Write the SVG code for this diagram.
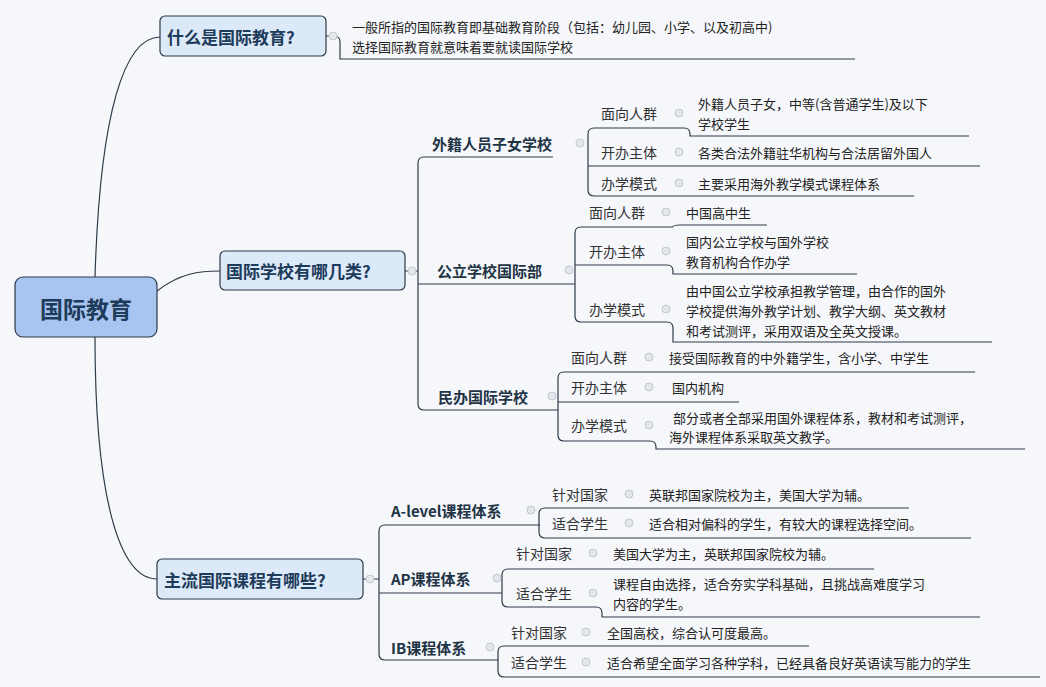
<svg xmlns="http://www.w3.org/2000/svg" width="1046" height="687" viewBox="0 0 1046 687">
<style>
text{font-family:"Noto Sans CJK SC","Liberation Sans",sans-serif;dominant-baseline:central}
.l1{font-size:17px;font-weight:bold;fill:#1d3b5a}
.l2{font-size:15px;font-weight:bold;fill:#1f3445}
.lb{font-size:14px;fill:#333}
.lf{font-size:13px;fill:#222}
.c{fill:none;stroke:#2e3b48;stroke-width:1.2}
.box{fill:#dce9f8;stroke:#2e3b48;stroke-width:1.2}
.k{fill:#e4e7ec;stroke:#c3c8cf;stroke-width:1}
</style>
<rect width="1046" height="687" fill="#f5f7fb"/>
<g id="connectors">
<path class="c" d="M95,277 C100,110 125,37 160,37"/>
<path class="c" d="M157,291 C180,273 200,271 220,271"/>
<path class="c" d="M95,337 C95,500 120,579 157,579"/>
<path class="c" d="M326,36 H334 Q340,36 340,42 V59 H855"/>
<path class="c" d="M405,271 H418 M553,157 H424 Q418,157 418,163 V404 Q418,410 424,410 H558 M418,284 H575"/>
<path class="c" d="M684,128 H594 Q588,128 588,134 V190 Q588,196 594,196 H914 M588,166 H980 M684,128 Q690,128 690,134 V136 H969"/>
<path class="c" d="M673,227 H581 Q575,227 575,233 V316 Q575,322 581,322 H667 Q673,322 673,328 V342 H992 M575,265 H667 Q673,265 673,271 V274 H857 M673,227 Q673,225 680,225 H767"/>
<path class="c" d="M656,372 H564 Q558,372 558,378 V435 Q558,441 564,441 H650 Q656,441 656,447 V449 H1025 M558,402 H739 M656,372 H975"/>
<path class="c" d="M363,579 H379 M540,525 H385 Q379,525 379,531 V654 Q379,660 385,660 H498 M379,593 H502"/>
<path class="c" d="M636,508 H545 Q539,508 539,514 V532 Q539,538 545,538 H971 M636,508 H909"/>
<path class="c" d="M602,569 H508 Q502,569 502,575 V601 Q502,607 508,607 H596 Q602,607 602,613 V617 H980 M602,569 H874"/>
<path class="c" d="M593,646 H504 Q498,646 498,652 V671 Q498,677 504,677 H1040 M593,646 H809"/>
</g>
<g id="root"><rect x="15" y="277" width="142" height="60" rx="8" fill="#a8c4f0" stroke="#2e3b48" stroke-width="1.2"/><text x="86" y="308" text-anchor="middle" style="font-size:23px;font-weight:bold;fill:#1d3b5a">国际教育</text></g>
<g id="n1"><rect class="box" x="160" y="16" width="166" height="40" rx="5"/><text class="l1" x="167" y="36">什么是国际教育?</text><circle class="k" cx="333" cy="36" r="4"/></g>
<g id="n1a"><text class="lf" x="352" y="26">一般所指的国际教育即基础教育阶段（包括：幼儿园、小学、以及初高中)</text><text class="lf" x="352" y="46">选择国际教育就意味着要就读国际学校</text></g>
<g id="n2"><rect class="box" x="220" y="251" width="185" height="39" rx="5"/><text class="l1" x="226" y="270">国际学校有哪几类?</text><circle class="k" cx="412" cy="271" r="4"/></g>
<g id="n3"><rect class="box" x="157" y="559" width="206" height="40" rx="5"/><text class="l1" x="164" y="579">主流国际课程有哪些?</text><circle class="k" cx="370" cy="579" r="4"/></g>
<g id="w"><text class="l2" x="432" y="143">外籍人员子女学校</text><circle class="k" cx="580" cy="143" r="4"/>
<text class="lb" x="601" y="113">面向人群</text><circle class="k" cx="679" cy="113" r="4"/><text class="lf" x="698" y="103">外籍人员子女，中等(含普通学生)及以下</text><text class="lf" x="698" y="123">学校学生</text>
<text class="lb" x="601" y="152">开办主体</text><circle class="k" cx="679" cy="152" r="4"/><text class="lf" x="698" y="152">各类合法外籍驻华机构与合法居留外国人</text>
<text class="lb" x="601" y="183">办学模式</text><circle class="k" cx="679" cy="183" r="4"/><text class="lf" x="698" y="183">主要采用海外教学模式课程体系</text></g>
<g id="g"><text class="l2" x="437" y="270">公立学校国际部</text><circle class="k" cx="569" cy="270" r="4"/>
<text class="lb" x="589" y="212">面向人群</text><circle class="k" cx="666" cy="212" r="4"/><text class="lf" x="686" y="212">中国高中生</text>
<text class="lb" x="589" y="251">开办主体</text><circle class="k" cx="666" cy="251" r="4"/><text class="lf" x="686" y="241">国内公立学校与国外学校</text><text class="lf" x="686" y="261">教育机构合作办学</text>
<text class="lb" x="589" y="309">办学模式</text><circle class="k" cx="666" cy="309" r="4"/><text class="lf" x="686" y="290">由中国公立学校承担教学管理，由合作的国外</text><text class="lf" x="686" y="310">学校提供海外教学计划、教学大纲、英文教材</text><text class="lf" x="686" y="330">和考试测评，采用双语及全英文授课。</text></g>
<g id="m"><text class="l2" x="438" y="396">民办国际学校</text><circle class="k" cx="552" cy="396" r="4"/>
<text class="lb" x="571" y="357">面向人群</text><circle class="k" cx="649" cy="357" r="4"/><text class="lf" x="669" y="357">接受国际教育的中外籍学生，含小学、中学生</text>
<text class="lb" x="571" y="387">开办主体</text><circle class="k" cx="649" cy="387" r="4"/><text class="lf" x="672" y="387">国内机构</text>
<text class="lb" x="571" y="425">办学模式</text><circle class="k" cx="649" cy="425" r="4"/><text class="lf" x="673" y="417">部分或者全部采用国外课程体系，教材和考试测评，</text><text class="lf" x="669" y="436">海外课程体系采取英文教学。</text></g>
<g id="a"><text class="l2" x="391" y="510">A-level课程体系</text><circle class="k" cx="531" cy="510" r="4"/>
<text class="lb" x="552" y="494">针对国家</text><circle class="k" cx="629" cy="494" r="4"/><text class="lf" x="649" y="494">英联邦国家院校为主，美国大学为辅。</text>
<text class="lb" x="552" y="523">适合学生</text><circle class="k" cx="629" cy="523" r="4"/><text class="lf" x="649" y="523">适合相对偏科的学生，有较大的课程选择空间。</text></g>
<g id="ap"><text class="l2" x="391" y="578">AP课程体系</text><circle class="k" cx="497" cy="578" r="4"/>
<text class="lb" x="516" y="553">针对国家</text><circle class="k" cx="593" cy="553" r="4"/><text class="lf" x="613" y="553">美国大学为主，英联邦国家院校为辅。</text>
<text class="lb" x="516" y="593">适合学生</text><circle class="k" cx="593" cy="593" r="4"/><text class="lf" x="613" y="583">课程自由选择，适合夯实学科基础，且挑战高难度学习</text><text class="lf" x="613" y="603">内容的学生。</text></g>
<g id="ib"><text class="l2" x="391" y="647">IB课程体系</text><circle class="k" cx="490" cy="647" r="4"/>
<text class="lb" x="511" y="632">针对国家</text><circle class="k" cx="586" cy="632" r="4"/><text class="lf" x="607" y="632">全国高校，综合认可度最高。</text>
<text class="lb" x="511" y="662">适合学生</text><circle class="k" cx="586" cy="662" r="4"/><text class="lf" x="607" y="662">适合希望全面学习各种学科，已经具备良好英语读写能力的学生</text></g>
</svg>
